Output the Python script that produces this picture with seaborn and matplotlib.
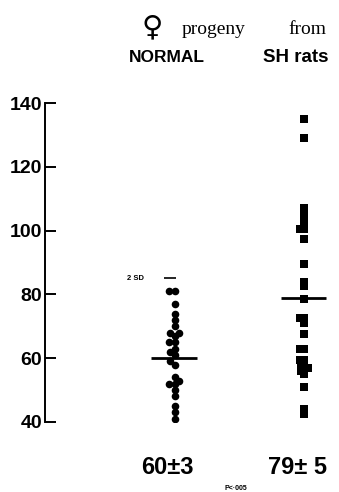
import pandas as pd
import seaborn as sns
import matplotlib.pyplot as plt

# values
groups = ['NORMAL', 'SH rats']
normal_vals = [81, 81, 77, 74, 72, 70, 68, 68, 67, 65, 65, 63, 62, 61, 59, 58,
               54, 53, 52, 52, 50, 48, 45, 43, 41]
sh_vals = [135, 129, 107, 105, 103.5, 102, 100.5, 100.5, 97.5, 89.5, 84, 82.5,
           78.5, 72.5, 72.5, 71, 67.5, 63, 63, 59.5, 59.5, 58, 57, 57, 56, 55,
           51, 44, 42.5]
means = [60, 79]
mean_labels = ['60\u00b13', '79\u00b1 5']
sd2_normal = 85
yticks = [40, 60, 80, 100, 120, 140]

df = pd.DataFrame({
    'group': ['NORMAL'] * len(normal_vals) + ['SH rats'] * len(sh_vals),
    'value': normal_vals + sh_vals,
})

sns.set_style('white')
plt.rcParams['font.family'] = ['Liberation Sans', 'DejaVu Sans']
plt.rcParams['text.color'] = 'black'

fig = plt.figure(figsize=(3.39, 4.92), dpi=100)
ax = fig.add_axes([45 / 339, 70 / 492, 285 / 339, 319 / 492])

# swarm laid out with small markers so points overlap like the original
sns.swarmplot(data=df[df.group == 'NORMAL'], x='group', y='value', order=groups,
              marker='o', color='black', size=4.0, linewidth=0, ax=ax)
n_first = len(ax.collections)
sns.swarmplot(data=df[df.group == 'SH rats'], x='group', y='value', order=groups,
              marker='s', color='black', size=3.0, linewidth=0, ax=ax)
fig.canvas.draw()
for k, coll in enumerate(ax.collections):
    if 'draw' in coll.__dict__:
        del coll.draw  # freeze swarm positions
    coll.set_sizes([30 if k < n_first else 28])

# mean bars and 2 SD mark
for i, m in enumerate(means):
    ax.hlines(m, i - 0.18, i + 0.17, color='black', lw=2)
ax.hlines(sd2_normal, -0.08, 0.01, color='black', lw=1.2)
ax.text(-0.37, sd2_normal, '2 SD', fontsize=5.5, fontweight='bold',
        va='center', ha='left')

ax.set_xlim(-1.0, 1.2)
ax.set_ylim(40, 140)
ax.set_yticks(yticks)
ax.set_yticklabels([str(t) for t in yticks], fontsize=14, fontweight='bold',
                   color='black')
ax.tick_params(axis='y', left=True, direction='in', length=8, width=1.4, pad=2,
               color='black')
ax.set_xticks([])
ax.set_xlabel('')
ax.set_ylabel('')
for s in ['top', 'right', 'bottom']:
    ax.spines[s].set_visible(False)
ax.spines['left'].set_linewidth(1.4)
ax.spines['left'].set_color('black')

# headings
fig.text(152 / 339, 1 - 27 / 492, '\u2640', fontsize=21, ha='center', va='center',
         fontweight='bold', family=['DejaVu Sans'])
fig.text(214 / 339, 1 - 30 / 492, 'progeny', fontsize=14, ha='center', va='center',
         family=['Liberation Serif', 'DejaVu Serif'])
fig.text(307 / 339, 1 - 29 / 492, 'from', fontsize=14, ha='center', va='center',
         family=['Liberation Serif', 'DejaVu Serif'])
fig.text(167 / 339, 1 - 58 / 492, 'NORMAL', fontsize=12.5, fontweight='bold',
         ha='center', va='center')
fig.text(296 / 339, 1 - 58 / 492, 'SH rats', fontsize=13.5, fontweight='bold',
         ha='center', va='center')

# summary below
fig.text(167 / 339, 1 - 468 / 492, mean_labels[0], fontsize=17, fontweight='bold',
         ha='center', va='center')
fig.text(298 / 339, 1 - 468 / 492, mean_labels[1], fontsize=17, fontweight='bold',
         ha='center', va='center')
fig.text(236 / 339, 1 - 488 / 492, 'P<\u00b7005', fontsize=5, fontweight='bold',
         ha='center', va='center')

fig.savefig('out.png', dpi=100)
